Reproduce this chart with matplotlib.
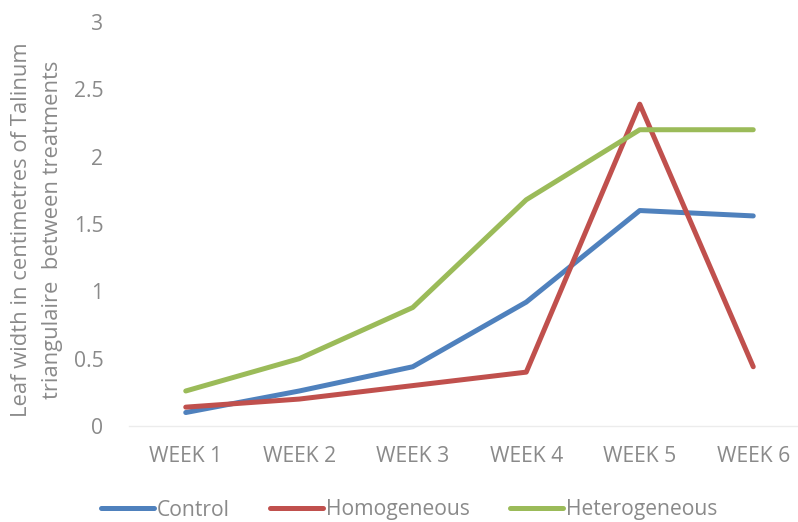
import matplotlib
matplotlib.use("Agg")
import matplotlib.pyplot as plt

weeks = ["WEEK 1", "WEEK 2", "WEEK 3", "WEEK 4", "WEEK 5", "WEEK 6"]
control = [0.10, 0.26, 0.44, 0.92, 1.60, 1.56]
homogeneous = [0.14, 0.20, 0.30, 0.40, 2.39, 0.44]
heterogeneous = [0.26, 0.50, 0.88, 1.68, 2.20, 2.20]
yticks = [0, 0.5, 1, 1.5, 2, 2.5, 3]
ytick_labels = ["0", "0.5", "1", "1.5", "2", "2.5", "3"]

plt.rcParams['font.family'] = ['Open Sans', 'DejaVu Sans']
grey = "#8a8a8a"
fs = 15.2

W, H = 798, 522
fig = plt.figure(figsize=(W/100, H/100), dpi=100)
left, right, bottom, top = 129, 810, 426, 22
ax = fig.add_axes([left/W, 1 - bottom/H, (right-left)/W, (bottom-top)/H])

x = list(range(len(weeks)))
ax.plot(x, control, color="#4F81BD", lw=3.6, label="Control", solid_capstyle="round")
ax.plot(x, homogeneous, color="#C0504D", lw=3.6, label="Homogeneous", solid_capstyle="round")
ax.plot(x, heterogeneous, color="#9BBB59", lw=3.6, label="Heterogeneous", solid_capstyle="round")

ax.set_xlim(-0.5, len(weeks) - 0.5)
ax.set_ylim(0, 3)
ax.set_yticks(yticks)
ax.set_yticklabels(ytick_labels)
ax.set_xticks(x)
ax.set_xticklabels(weeks)
for s in ["top", "right", "left"]:
    ax.spines[s].set_visible(False)
ax.spines["bottom"].set_color("#ececec")
ax.spines["bottom"].set_linewidth(1.0)
ax.tick_params(axis="both", length=0, colors=grey, labelsize=fs)
ax.tick_params(axis="y", pad=18.5)
ax.tick_params(axis="x", pad=14.5)

fig.text(22/W, 1 - 230/H, "Leaf width in centimetres of Talinum", rotation=90,
         ha="center", va="center", color=grey, fontsize=15.8)
fig.text(53/W, 1 - 230/H, "triangulaire  between treatments", rotation=90,
         ha="center", va="center", color=grey, fontsize=15.8)

fig.legend(loc="center", bbox_to_anchor=(409/W, 1 - 510/H), ncol=3, frameon=False,
           fontsize=fs, labelcolor=grey, handlelength=2.5, handletextpad=0.15,
           columnspacing=1.9)

fig.savefig("out.png", dpi=100)
